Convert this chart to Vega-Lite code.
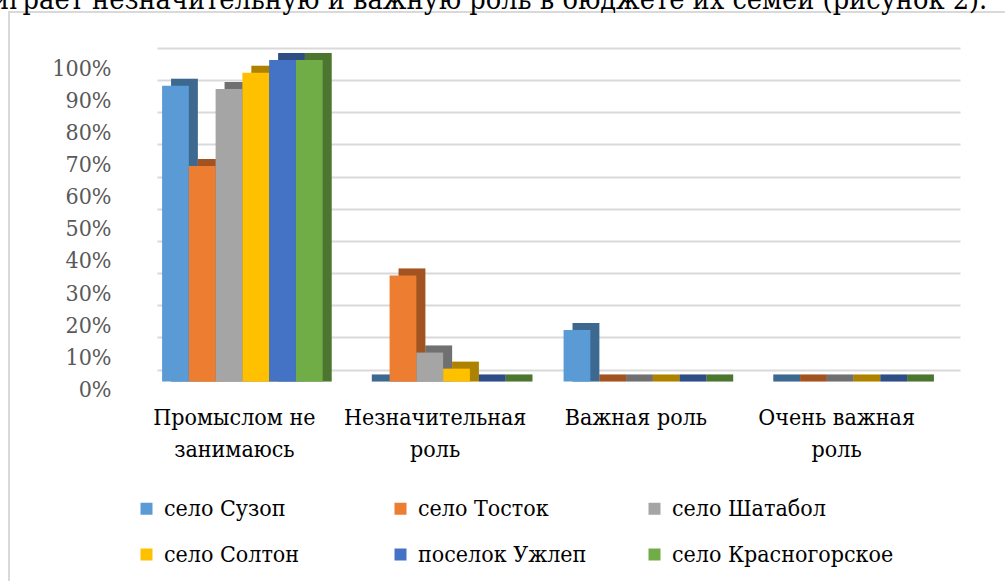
{
  "$schema": "https://vega.github.io/schema/vega-lite/v6.json",
  "autosize": "none",
  "width": 1000,
  "height": 588,
  "padding": {"left": 9, "top": 12, "right": 0, "bottom": 0},
  "background": "white",
  "title": {
    "text": "играет незначительную и важную роль в бюджете их семей (рисунок 2).",
    "font": "DejaVu Serif Condensed",
    "fontSize": 28.6,
    "fontWeight": "normal",
    "color": "black",
    "anchor": "start",
    "frame": "group",
    "baseline": "alphabetic",
    "offset": 2,
    "dx": -17,
    "dy": 28
  },
  "config": {
    "view": {"stroke": "#d9d9d9", "strokeWidth": 2}
  },
  "data": {
    "values": [
      {"cat": "Промыслом не занимаюсь", "village": "село Сузоп", "value": 0.92},
      {"cat": "Промыслом не занимаюсь", "village": "село Тосток", "value": 0.67},
      {"cat": "Промыслом не занимаюсь", "village": "село Шатабол", "value": 0.91},
      {"cat": "Промыслом не занимаюсь", "village": "село Солтон", "value": 0.96},
      {"cat": "Промыслом не занимаюсь", "village": "поселок Ужлеп", "value": 1.0},
      {"cat": "Промыслом не занимаюсь", "village": "село Красногорское", "value": 1.0},
      {"cat": "Незначительная роль", "village": "село Сузоп", "value": 0},
      {"cat": "Незначительная роль", "village": "село Тосток", "value": 0.33},
      {"cat": "Незначительная роль", "village": "село Шатабол", "value": 0.09},
      {"cat": "Незначительная роль", "village": "село Солтон", "value": 0.04},
      {"cat": "Незначительная роль", "village": "поселок Ужлеп", "value": 0},
      {"cat": "Незначительная роль", "village": "село Красногорское", "value": 0},
      {"cat": "Важная роль", "village": "село Сузоп", "value": 0.16},
      {"cat": "Важная роль", "village": "село Тосток", "value": 0},
      {"cat": "Важная роль", "village": "село Шатабол", "value": 0},
      {"cat": "Важная роль", "village": "село Солтон", "value": 0},
      {"cat": "Важная роль", "village": "поселок Ужлеп", "value": 0},
      {"cat": "Важная роль", "village": "село Красногорское", "value": 0},
      {"cat": "Очень важная роль", "village": "село Сузоп", "value": 0},
      {"cat": "Очень важная роль", "village": "село Тосток", "value": 0},
      {"cat": "Очень важная роль", "village": "село Шатабол", "value": 0},
      {"cat": "Очень важная роль", "village": "село Солтон", "value": 0},
      {"cat": "Очень важная роль", "village": "поселок Ужлеп", "value": 0},
      {"cat": "Очень важная роль", "village": "село Красногорское", "value": 0}
    ]
  },
  "resolve": {"scale": {"xOffset": "independent"}},
  "encoding": {
    "x": {
      "field": "cat",
      "type": "nominal",
      "sort": null,
      "scale": {"range": [148, 951], "paddingInner": 0.2, "paddingOuter": 0.1},
      "axis": {
        "title": null,
        "labelAngle": 0,
        "domain": false,
        "ticks": false,
        "tickSize": 0,
        "labelFont": "DejaVu Serif Condensed",
        "labelFontSize": 23,
        "labelColor": "#000000",
        "labelBaseline": "top",
        "labelPadding": -194,
        "labelOffset": -23,
        "labelLineHeight": 32,
        "labelLimit": 400,
        "labelExpr": "datum.label == 'Промыслом не занимаюсь' ? ['Промыслом не', 'занимаюсь'] : datum.label == 'Незначительная роль' ? ['Незначительная', 'роль'] : datum.label == 'Очень важная роль' ? ['Очень важная', 'роль'] : datum.label"
      }
    },
    "y": {
      "field": "value",
      "type": "quantitative",
      "stack": null,
      "scale": {"domain": [0, 1], "range": [357.5, 36], "nice": false, "zero": true},
      "axis": {
        "title": null,
        "values": [0, 0.1, 0.2, 0.3, 0.4, 0.5, 0.6, 0.7, 0.8, 0.9, 1],
        "format": ".0%",
        "domain": false,
        "ticks": false,
        "tickSize": 0,
        "grid": true,
        "gridColor": "#d9d9d9",
        "gridWidth": 2,
        "labelFont": "DejaVu Serif Condensed",
        "labelFontSize": 23,
        "labelColor": "#595959",
        "labelAlign": "right",
        "labelPadding": -102,
        "labelOffset": 20
      }
    },
    "y2": {"datum": 0}
  },
  "layer": [
    {
      "mark": {"type": "bar", "yOffset": 5, "y2Offset": 12},
      "encoding": {
        "xOffset": {"field": "village", "type": "nominal", "sort": null, "scale": {"range": [-6, 154.6], "paddingInner": 0, "paddingOuter": 0}},
        "color": {
          "field": "village",
          "type": "nominal",
          "sort": null,
          "scale": {
            "domain": ["село Сузоп", "село Тосток", "село Шатабол", "село Солтон", "поселок Ужлеп", "село Красногорское"],
            "range": ["#5B9BD5", "#ED7D31", "#A5A5A5", "#FFC000", "#4472C4", "#70AD47"]
          },
          "legend": {
            "title": null,
            "orient": "none",
            "legendX": 126,
            "legendY": 485,
            "columns": 3,
            "direction": "horizontal",
            "gridAlign": "all",
            "columnPadding": 3,
            "rowPadding": 22,
            "padding": 0,
            "symbolType": "square",
            "symbolSize": 144,
            "symbolStrokeWidth": 0,
            "symbolOpacity": 1,
            "labelFont": "DejaVu Serif Condensed",
            "labelFontSize": 23,
            "labelColor": "#000000",
            "labelOffset": 6,
            "labelLimit": 400
          }
        }
      }
    },
    {
      "mark": {"type": "bar", "yOffset": 5, "y2Offset": 12, "color": "black", "opacity": 0.32},
      "encoding": {
        "xOffset": {"field": "village", "type": "nominal", "sort": null, "scale": {"range": [-6, 154.6], "paddingInner": 0, "paddingOuter": 0}}
      }
    },
    {
      "mark": {"type": "bar", "yOffset": 12, "y2Offset": 12},
      "encoding": {
        "xOffset": {"field": "village", "type": "nominal", "sort": null, "scale": {"range": [-15, 145.6], "paddingInner": 0, "paddingOuter": 0}},
        "color": {"field": "village", "type": "nominal", "sort": null}
      }
    }
  ]
}
